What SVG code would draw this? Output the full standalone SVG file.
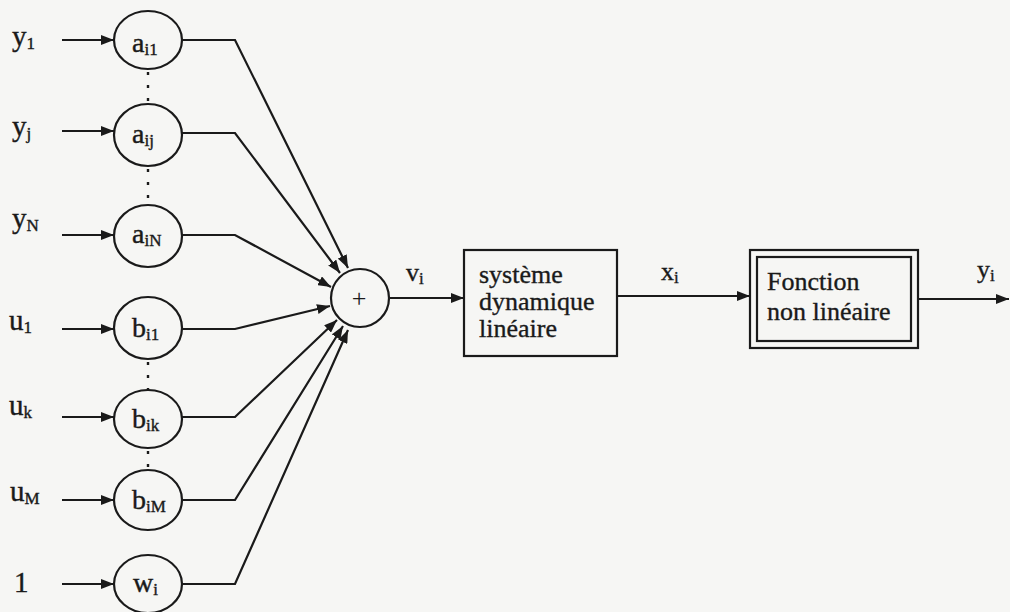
<svg xmlns="http://www.w3.org/2000/svg" width="1010" height="612" viewBox="0 0 1010 612">
  <style>
    .bg { fill: #f6f6f4; }
    .shape { fill: none; stroke: #1a1a1a; stroke-width: 2.2; }
    .arrow { fill: none; stroke: #1a1a1a; stroke-width: 2.2; marker-end: url(#head); }
    .dots { fill: none; stroke: #1a1a1a; stroke-width: 2.4; stroke-dasharray: 3 10; }
    .lbl { font-family: "Liberation Serif", "Times New Roman", serif; font-size: 29px; fill: #1a1a1a; stroke: #1a1a1a; stroke-width: 0.4; }
    .node { font-family: "Liberation Serif", "Times New Roman", serif; font-size: 28px; fill: #1a1a1a; stroke: #1a1a1a; stroke-width: 0.4; }
    .txt { font-family: "Liberation Serif", "Times New Roman", serif; font-size: 26px; fill: #1a1a1a; stroke: #1a1a1a; stroke-width: 0.35; }
    .sub { font-size: 17px; }
    .plus { font-family: "Liberation Serif", "Times New Roman", serif; font-size: 26px; fill: #1a1a1a; text-anchor: middle; }
  </style>
  <defs>
    <marker id="head" markerUnits="userSpaceOnUse" markerWidth="13" markerHeight="10" refX="13" refY="5" orient="auto">
      <path d="M0,0 L13,5 L0,10 Z" fill="#1a1a1a"/>
    </marker>
  </defs>

  <rect class="bg" x="0" y="0" width="1010" height="612"/>

  <!-- input labels -->
  <g id="inputs">
    <text class="lbl" x="12" y="46">y<tspan class="sub" dy="3">1</tspan></text>
    <text class="lbl" x="12" y="136">y<tspan class="sub" dy="3">j</tspan></text>
    <text class="lbl" x="12" y="228">y<tspan class="sub" dy="3">N</tspan></text>
    <text class="lbl" x="9" y="330">u<tspan class="sub" dy="3">1</tspan></text>
    <text class="lbl" x="9" y="415">u<tspan class="sub" dy="3">k</tspan></text>
    <text class="lbl" x="10" y="501">u<tspan class="sub" dy="3">M</tspan></text>
    <text class="lbl" x="14" y="592">1</text>
  </g>

  <!-- weight nodes -->
  <g id="node-a-i1">
    <ellipse class="shape" cx="148" cy="40" rx="34" ry="29"/>
    <text class="node" x="132" y="52">a<tspan class="sub" dy="3">i1</tspan></text>
  </g>
  <g id="node-a-ij">
    <ellipse class="shape" cx="148" cy="135" rx="34" ry="31"/>
    <text class="node" x="132" y="143">a<tspan class="sub" dy="3">ij</tspan></text>
  </g>
  <g id="node-a-iN">
    <ellipse class="shape" cx="148" cy="236" rx="34" ry="31"/>
    <text class="node" x="132" y="243">a<tspan class="sub" dy="3">iN</tspan></text>
  </g>
  <g id="node-b-i1">
    <ellipse class="shape" cx="148" cy="328" rx="34" ry="31"/>
    <text class="node" x="132" y="337">b<tspan class="sub" dy="3">i1</tspan></text>
  </g>
  <g id="node-b-ik">
    <ellipse class="shape" cx="148" cy="419" rx="34" ry="29"/>
    <text class="node" x="132" y="428">b<tspan class="sub" dy="3">ik</tspan></text>
  </g>
  <g id="node-b-iM">
    <ellipse class="shape" cx="148" cy="500" rx="34" ry="30"/>
    <text class="node" x="132" y="509">b<tspan class="sub" dy="3">iM</tspan></text>
  </g>
  <g id="node-w-i">
    <ellipse class="shape" cx="148" cy="584" rx="34" ry="29"/>
    <text class="node" x="133" y="592">w<tspan class="sub" dy="3">i</tspan></text>
  </g>

  <!-- summation node -->
  <g id="node-sum">
    <circle class="shape" cx="360" cy="298" r="29"/>
    <text class="plus" x="359" y="307">+</text>
  </g>

  <!-- linear dynamic system -->
  <g id="node-linear">
    <rect class="shape" x="464" y="250" width="153" height="106"/>
    <text class="txt" x="479" y="283">système</text>
    <text class="txt" x="479" y="310">dynamique</text>
    <text class="txt" x="479" y="337">linéaire</text>
  </g>

  <!-- non-linear function -->
  <g id="node-nonlinear">
    <rect class="shape" x="750" y="250" width="168" height="98"/>
    <rect class="shape" x="757" y="257" width="154" height="84"/>
    <text class="txt" x="767" y="290">Fonction</text>
    <text class="txt" x="767" y="320">non linéaire</text>
  </g>

  <!-- signal labels -->
  <g id="signal-labels">
    <text class="txt" x="406" y="281">v<tspan class="sub" dy="3">i</tspan></text>
    <text class="txt" x="661" y="280">x<tspan class="sub" dy="3">i</tspan></text>
    <text class="txt" x="977" y="278">y<tspan class="sub" dy="3">i</tspan></text>
  </g>

  <!-- connectors -->
  <g id="connectors">
    <!-- inputs into weights -->
    <line class="arrow" x1="62" y1="40" x2="114" y2="40"/>
    <line class="arrow" x1="62" y1="131" x2="114" y2="131"/>
    <line class="arrow" x1="62" y1="235" x2="114" y2="235"/>
    <line class="arrow" x1="62" y1="329" x2="114" y2="329"/>
    <line class="arrow" x1="62" y1="417" x2="114" y2="417"/>
    <line class="arrow" x1="62" y1="500" x2="114" y2="500"/>
    <line class="arrow" x1="62" y1="584" x2="114" y2="584"/>

    <!-- weighted terms into the sum -->
    <polyline class="arrow" points="182,40 235,40 348,268"/>
    <polyline class="arrow" points="182,133 235,133 340,273"/>
    <polyline class="arrow" points="182,235 235,235 331,287"/>
    <polyline class="arrow" points="182,329 235,329 330,306"/>
    <polyline class="arrow" points="182,417 235,417 337,320"/>
    <polyline class="arrow" points="182,500 235,500 343,326"/>
    <polyline class="arrow" points="182,584 235,584 348,330"/>

    <!-- main chain -->
    <line class="arrow" x1="389" y1="298" x2="464" y2="298"/>
    <line class="arrow" x1="617" y1="296" x2="750" y2="296"/>
    <line class="arrow" x1="918" y1="299" x2="1009" y2="299"/>

    <!-- elided rows -->
    <line class="dots" x1="148" y1="72" x2="148" y2="104"/>
    <line class="dots" x1="148" y1="169" x2="148" y2="205"/>
    <line class="dots" x1="148" y1="362" x2="148" y2="390"/>
    <line class="dots" x1="148" y1="451" x2="148" y2="470"/>
  </g>
</svg>
